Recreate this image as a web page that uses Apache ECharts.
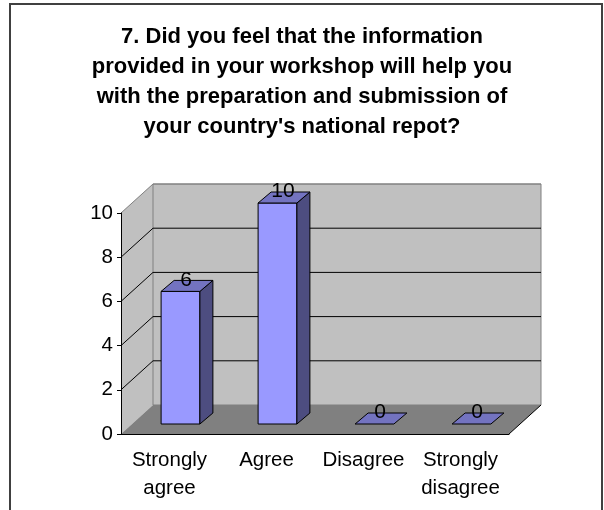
<!DOCTYPE html>
<html>
<head>
<meta charset="utf-8">
<script src="https://cdn.jsdelivr.net/npm/echarts@6/dist/echarts.min.js"></script>
<style>
  html, body { margin: 0; padding: 0; background: #fff; }
  #chart { width: 604px; height: 510px; }
</style>
</head>
<body>
<div id="chart"></div>
<script>
const titleText = "7. Did you feel that the information\nprovided in your workshop will help you\nwith the preparation and submission of\nyour country's national repot?";
const categories = ['Strongly\nagree', 'Agree', 'Disagree', 'Strongly\ndisagree'];
const values = [6, 10, 0, 0];
const yTicks = [0, 2, 4, 6, 8, 10];

const FONT = '"Liberation Sans", Arial, sans-serif';
const DX = 32, DY = -29;          // depth of the 3D box
const FDX = 11, FDY = -10;        // bar front-face depth offset
const BDX = 13, BDY = -11;        // bar depth

const chart = echarts.init(document.getElementById('chart'));

function wallsRender(params, api) {
  const cs = params.coordSys;
  const gx = cs.x, gy = cs.y, gw = cs.width, gh = cs.height;
  const by = gy + gh;
  const topY = api.coord([0, yTicks[yTicks.length - 1]])[1];
  const children = [];
  children.push({ type: 'polygon', shape: { points: [[gx, by], [gx, topY], [gx + DX, topY + DY], [gx + DX, by + DY]] },
    style: { fill: '#c0c0c0', stroke: null } });
  children.push({ type: 'rect', shape: { x: gx + DX, y: topY + DY, width: gw, height: by - topY },
    style: { fill: '#c0c0c0', stroke: '#808080', lineWidth: 1 } });
  children.push({ type: 'polygon', shape: { points: [[gx, by], [gx + gw, by], [gx + gw + DX, by + DY], [gx + DX, by + DY]] },
    style: { fill: '#808080', stroke: null } });
  children.push({ type: 'line', shape: { x1: gx + gw, y1: by, x2: gx + gw + DX, y2: by + DY },
    style: { stroke: '#000', lineWidth: 1 } });
  yTicks.forEach(function (t, k) {
    if (t === 0) return;
    const y = api.coord([0, t])[1];
    const col = (k === yTicks.length - 1) ? '#808080' : '#000';
    children.push({ type: 'line', shape: { x1: gx, y1: y, x2: gx + DX, y2: y + DY }, style: { stroke: col, lineWidth: 1 } });
    children.push({ type: 'line', shape: { x1: gx + DX, y1: y + DY, x2: gx + gw + DX, y2: y + DY }, style: { stroke: col, lineWidth: 1 } });
  });
  return { type: 'group', children: children };
}

function barRender(params, api) {
  const i = api.value(0), v = api.value(1);
  const p = api.coord([i, v]);
  const p0 = api.coord([i, 0]);
  const bw = api.size([1, 0])[0] * 0.4;
  const x1 = p[0] - bw / 2 + FDX, x2 = p[0] + bw / 2 + FDX;
  const yb = p0[1] + FDY, yt = p[1] + FDY;
  const st = { stroke: '#000', lineWidth: 1, lineJoin: 'miter' };
  const children = [];
  if (yb - yt > 0.5) {
    children.push({ type: 'rect', shape: { x: x1, y: yt, width: x2 - x1, height: yb - yt }, style: Object.assign({ fill: '#9999ff' }, st) });
    children.push({ type: 'polygon', shape: { points: [[x2, yb], [x2, yt], [x2 + BDX, yt + BDY], [x2 + BDX, yb + BDY]] }, style: Object.assign({ fill: '#4d4d80' }, st) });
  }
  children.push({ type: 'polygon', shape: { points: [[x1, yt], [x2, yt], [x2 + BDX, yt + BDY], [x1 + BDX, yt + BDY]] }, style: Object.assign({ fill: '#7373c0' }, st) });
  children.push({ type: 'text', style: { text: String(v), x: (x1 + x2) / 2 + BDX / 2 - 1, y: yt + BDY / 2 - 6,
    fill: '#000', font: '21px ' + FONT, align: 'center', verticalAlign: 'middle' } });
  return { type: 'group', children: children };
}

chart.setOption({
  animation: false,
  backgroundColor: '#fff',
  title: {
    text: titleText,
    left: 'center',
    top: 17,
    textStyle: { fontFamily: FONT, fontSize: 22, fontWeight: 'bold', color: '#000', lineHeight: 30 }
  },
  graphic: [{
    type: 'rect', shape: { x: 10, y: 4, width: 592, height: 530 },
    style: { fill: null, stroke: '#404040', lineWidth: 2 }, z: 100
  }],
  grid: { left: 121, top: 213, width: 388, height: 221 },
  xAxis: {
    type: 'category',
    data: categories,
    z: 10,
    axisLine: { lineStyle: { color: '#000', width: 1 } },
    axisTick: { length: 5, lineStyle: { color: '#000' } },
    axisLabel: { interval: 0, margin: 12, fontFamily: FONT, fontSize: 20.5, lineHeight: 28, color: '#000' },
    splitLine: { show: false }
  },
  yAxis: {
    type: 'value',
    min: 0, max: 10, interval: 2,
    z: 10,
    axisLine: { show: true, lineStyle: { color: '#000', width: 1 } },
    axisTick: { show: true, length: 4, lineStyle: { color: '#000' } },
    axisLabel: { margin: 8, fontFamily: FONT, fontSize: 20.5, color: '#000' },
    splitLine: { show: false }
  },
  series: [
    { type: 'custom', name: 'walls', data: [[0, 0]], encode: { x: 0, y: 1 }, renderItem: wallsRender, silent: true, z: 1, clip: false },
    { type: 'custom', name: 'responses', data: values.map(function (v, i) { return [i, v]; }), encode: { x: 0, y: 1 }, renderItem: barRender, z: 3, clip: false }
  ]
});
</script>
</body>
</html>
